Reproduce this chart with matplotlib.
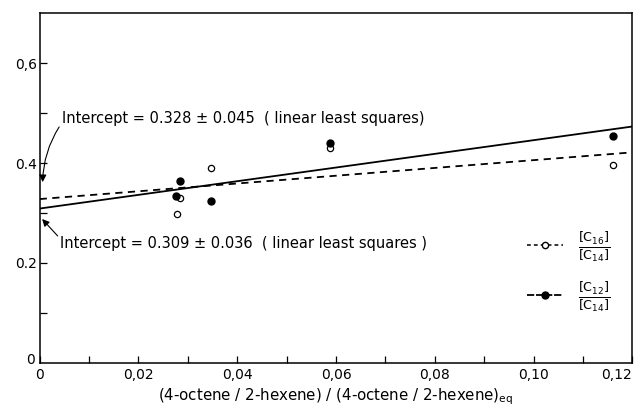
import numpy as np
import matplotlib
matplotlib.use('Agg')
from matplotlib import pyplot as plt
from matplotlib.lines import Line2D

# C16/C14 (open circles)
x_open = [0.0278, 0.0285, 0.0346, 0.0588, 0.1160]
y_open = [0.298, 0.330, 0.390, 0.431, 0.396]
# C12/C14 (filled circles)
x_fill = [0.0277, 0.0284, 0.0347, 0.0588, 0.1160]
y_fill = [0.335, 0.364, 0.325, 0.441, 0.454]

# least squares lines: intercept, slope
int_open, slope_open = 0.328, 0.78
int_fill, slope_fill = 0.309, 1.37

x_ticks = [0, 0.02, 0.04, 0.06, 0.08, 0.10, 0.12]
x_ticklabels = ['0', '0,02', '0,04', '0,06', '0,08', '0,10', '0,12']
y_ticks = [0.2, 0.4, 0.6]
y_ticklabels = ['0.2', '0.4', '0,6']

plt.rcParams['font.family'] = ['DejaVu Sans']
fig = plt.figure(figsize=(6.4, 4.08), dpi=100)
ax = fig.add_axes([0.062, 0.111, 0.926, 0.856])

xl = np.array([0, 0.12])
ax.plot(xl, int_open + slope_open * xl, 'k--', lw=1.3, dashes=(4, 3))
ax.plot(xl, int_fill + slope_fill * xl, 'k-', lw=1.3)
ax.plot(x_open, y_open, 'o', mfc='white', mec='black', ms=4.5, mew=0.9)
ax.plot(x_fill, y_fill, 'o', mfc='black', mec='black', ms=5)

ax.set_xlim(0, 0.12)
ax.set_ylim(0, 0.7)
ax.set_xticks(x_ticks)
ax.set_xticklabels(x_ticklabels)
ax.set_xticks(np.arange(0.01, 0.12, 0.02), minor=True)
ax.set_yticks(y_ticks)
ax.set_yticklabels(y_ticklabels)
ax.set_yticks([0.1, 0.3, 0.5], minor=True)
ax.tick_params(which='both', direction='in', length=5, width=0.9, labelsize=10)
ax.tick_params(axis='x', pad=4)
ax.tick_params(axis='y', pad=2)
ax.get_xticklabels()[-1].set_horizontalalignment('right')
ax.get_xticklabels()[-1].set_x(0.1215)
for s in ax.spines.values():
    s.set_linewidth(1.1)
# origin label on y axis
ax.text(-0.001, 0.005, '0', ha='right', va='center', fontsize=10, clip_on=False)
ax.set_xlabel(r'(4-octene / 2-hexene) / (4-octene / 2-hexene)$_{\rm eq}$', fontsize=10.8, labelpad=3)

ax.annotate('Intercept = 0.328 ± 0.045  ( linear least squares)', xy=(0.0006, 0.362), xytext=(0.0045, 0.49),
            fontsize=10.5, va='center', ha='left',
            arrowprops=dict(arrowstyle='-|>', color='black', lw=0.8, connectionstyle='arc3,rad=0.15',
                            shrinkA=0, shrinkB=0, relpos=(0, 0.2)))
ax.annotate('Intercept = 0.309 ± 0.036  ( linear least squares )', xy=(0.0005, 0.288), xytext=(0.0042, 0.239),
            fontsize=10.5, va='center', ha='left',
            arrowprops=dict(arrowstyle='-|>', color='black', lw=0.8, connectionstyle='arc3,rad=0.0',
                            shrinkA=0, shrinkB=0, relpos=(0, 0.8)))

h1 = Line2D([], [], color='black', ls='--', lw=1.1, dashes=(2.5, 2), marker='o', mfc='white', mec='black', ms=4.5)
h2 = Line2D([], [], color='black', ls='--', lw=1.3, dashes=(4, 1), marker='o', mfc='black', mec='black', ms=5)
ax.legend([h1, h2], [r'$\frac{[\mathrm{C}_{16}]}{[\mathrm{C}_{14}]}$', r'$\frac{[\mathrm{C}_{12}]}{[\mathrm{C}_{14}]}$'],
          loc='center left', bbox_to_anchor=(0.795, 0.26), frameon=False, numpoints=1,
          handlelength=2.0, fontsize=13, labelspacing=0.9, handletextpad=0.8)

plt.savefig('out.png', dpi=100)
plt.close()
